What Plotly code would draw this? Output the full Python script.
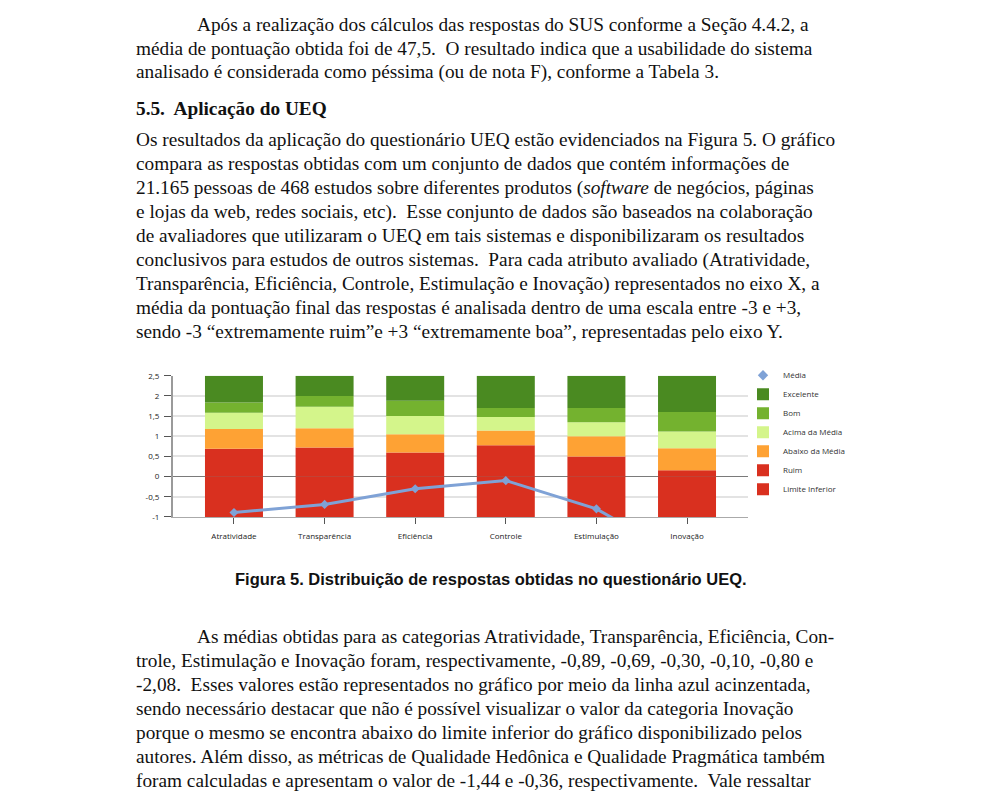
import plotly.graph_objects as go

W, H = 982, 798

categorias = ["Atratividade", "Transparência", "Eficiência", "Controle", "Estimulação", "Inovação"]
# UEQ benchmark thresholds (upper border of each class)
limite_inferior = [-1, -1, -1, -1, -1, -1]
ruim_ate = [0.69, 0.72, 0.60, 0.78, 0.50, 0.16]
abaixo_ate = [1.18, 1.20, 1.05, 1.14, 1.00, 0.70]
acima_ate = [1.58, 1.73, 1.50, 1.48, 1.35, 1.12]
bom_ate = [1.84, 2.00, 1.88, 1.70, 1.70, 1.60]
excelente_ate = [2.5, 2.5, 2.5, 2.5, 2.5, 2.5]
media = [-0.89, -0.69, -0.30, -0.10, -0.80, -2.08]

y_ticks = [2.5, 2, 1.5, 1, 0.5, 0, -0.5, -1]
y_tick_labels = ["2,5", "2", "1,5", "1", "0,5", "0", "-0,5", "-1"]

c_exc, c_bom, c_acima, c_abaixo, c_ruim = "#4a8a21", "#74b22f", "#d4f58b", "#fea234", "#d9301f"
c_media = "#7fa2d6"

def diff(a, b):
    return [round(x - y, 4) for x, y in zip(a, b)]

seg_ruim = ruim_ate
seg_abaixo = diff(abaixo_ate, ruim_ate)
seg_acima = diff(acima_ate, abaixo_ate)
seg_bom = diff(bom_ate, acima_ate)
seg_exc = diff(excelente_ate, bom_ate)

fig = go.Figure()
bar_kw = dict(width=0.64, marker_line_width=0, hoverinfo="skip")
fig.add_bar(x=categorias, y=limite_inferior, name="Limite Inferior", marker_color=c_ruim, legendrank=7, **bar_kw)
fig.add_bar(x=categorias, y=seg_ruim, name="Ruim", marker_color=c_ruim, legendrank=6, **bar_kw)
fig.add_bar(x=categorias, y=seg_abaixo, name="Abaixo da Média", marker_color=c_abaixo, legendrank=5, **bar_kw)
fig.add_bar(x=categorias, y=seg_acima, name="Acima da Média", marker_color=c_acima, legendrank=4, **bar_kw)
fig.add_bar(x=categorias, y=seg_bom, name="Bom", marker_color=c_bom, legendrank=3, **bar_kw)
fig.add_bar(x=categorias, y=seg_exc, name="Excelente", marker_color=c_exc, legendrank=2, **bar_kw)
fig.add_scatter(x=categorias, y=media, mode="lines+markers", name="Média", showlegend=False,
                line=dict(color=c_media, width=3), marker=dict(symbol="diamond", size=7, color=c_media),
                hoverinfo="skip")
fig.add_scatter(x=[None], y=[None], mode="markers", name="Média", legendrank=1,
                marker=dict(symbol="diamond", size=8, color=c_media))

def px(x):
    return x / W

def py(y):
    # slight vertical spread correction around the page middle
    ys = 447 + (y - 447) * 1.015
    return 1 - ys / H

fig.update_layout(
    width=W, height=H, margin=dict(l=0, r=0, t=0, b=0),
    paper_bgcolor="white", plot_bgcolor="white",
    barmode="relative", separators=",.",
    showlegend=True,
    legend=dict(x=px(743), y=py(361), xanchor="left", yanchor="top",
                font=dict(family="Open Sans", size=8, color="#333"),
                bgcolor="rgba(0,0,0,0)", itemwidth=30, tracegroupgap=0),
    xaxis=dict(domain=[px(173), px(748)], range=[-0.673, 5.673],
               showgrid=False, showline=True, linecolor="#aaaaaa", linewidth=1,
               ticks="outside", ticklen=6, tickcolor="#555", tickwidth=1, ticklabelstandoff=5,
               tickfont=dict(family="Open Sans", size=8, color="#222"), fixedrange=True),
    yaxis=dict(domain=[py(517), py(376)], range=[-1, 2.5],
               tickvals=y_ticks, ticktext=y_tick_labels,
               showgrid=True, gridcolor="#e3e3e3", gridwidth=1.5,
               zeroline=True, zerolinecolor="#7a7a7a", zerolinewidth=1,
               showline=True, linecolor="#9a9a9a", linewidth=2,
               ticks="outside", ticklen=7, tickcolor="#555", tickwidth=1, ticklabelstandoff=3,
               tickfont=dict(family="Open Sans", size=8, color="#222"), fixedrange=True),
)

serif = dict(family="Liberation Serif", size=19.3, color="#111")
linhas = [
    (195, 25, "Após a realização dos cálculos das respostas do SUS conforme a Seção 4.4.2, a"),
    (134, 49, "média de pontuação obtida foi de 47,5.  O resultado indica que a usabilidade do sistema"),
    (134, 73, "analisado é considerada como péssima (ou de nota F), conforme a Tabela 3."),
    (134, 109, "<b>5.5.  Aplicação do UEQ</b>"),
    (134, 140, "Os resultados da aplicação do questionário UEQ estão evidenciados na Figura 5. O gráfico"),
    (134, 164, "compara as respostas obtidas com um conjunto de dados que contém informações de"),
    (134, 188, "21.165 pessoas de 468 estudos sobre diferentes produtos (<i>software</i> de negócios, páginas"),
    (134, 212, "e lojas da web, redes sociais, etc).  Esse conjunto de dados são baseados na colaboração"),
    (134, 236, "de avaliadores que utilizaram o UEQ em tais sistemas e disponibilizaram os resultados"),
    (134, 260, "conclusivos para estudos de outros sistemas.  Para cada atributo avaliado (Atratividade,"),
    (134, 284, "Transparência, Eficiência, Controle, Estimulação e Inovação) representados no eixo X, a"),
    (134, 308, "média da pontuação final das respostas é analisada dentro de uma escala entre -3 e +3,"),
    (134, 332, "sendo -3 “extremamente ruim”e +3 “extremamente boa”, representadas pelo eixo Y."),
    (195, 636, "As médias obtidas para as categorias Atratividade, Transparência, Eficiência, Con-"),
    (134, 660, "trole, Estimulação e Inovação foram, respectivamente, -0,89, -0,69, -0,30, -0,10, -0,80 e"),
    (134, 684, "-2,08.  Esses valores estão representados no gráfico por meio da linha azul acinzentada,"),
    (134, 708, "sendo necessário destacar que não é possível visualizar o valor da categoria Inovação"),
    (134, 732, "porque o mesmo se encontra abaixo do limite inferior do gráfico disponibilizado pelos"),
    (134, 756, "autores. Além disso, as métricas de Qualidade Hedônica e Qualidade Pragmática também"),
    (134, 780, "foram calculadas e apresentam o valor de -1,44 e -0,36, respectivamente.  Vale ressaltar"),
]
ann = []
for x, y, t in linhas:
    ann.append(dict(xref="paper", yref="paper", x=px(x), y=py(y), xanchor="left", yanchor="middle",
                    text=t, showarrow=False, font=serif))
ann.append(dict(xref="paper", yref="paper", x=px(491), y=py(579), xanchor="center", yanchor="middle",
                text="<b>Figura 5. Distribuição de respostas obtidas no questionário UEQ.</b>",
                showarrow=False, font=dict(family="Liberation Sans", size=16.5, color="#111")))
fig.update_layout(annotations=ann)

post = ("document.documentElement.style.margin='0';document.body.style.margin='0';"
        "document.documentElement.style.overflow='hidden';document.body.style.overflow='hidden';")
fig.write_html("out.html", config={"displayModeBar": False}, post_script=post)
